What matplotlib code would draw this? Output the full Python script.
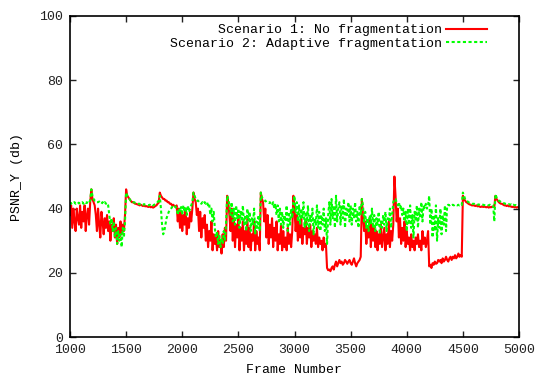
import numpy as np
import matplotlib
matplotlib.use("Agg")
import matplotlib.pyplot as plt

plt.rcParams['font.family'] = ['Liberation Mono', 'DejaVu Sans Mono']

frames = np.arange(1000, 5001, 10)

psnr_no_frag = [
    38, 41, 34, 40, 36, 33, 40, 37, 35, 41,            # 1000
    34, 39, 36, 41, 33, 38, 40, 35, 42, 46,            # 1100
    43, 42, 41, 38, 33, 40, 35, 31, 39, 36,            # 1200
    32, 37, 34, 38, 33, 36, 30, 35, 33, 37,            # 1300
    31, 35, 29, 34, 31, 36, 32, 35, 33, 38,            # 1400
    46, 44, 43.5, 43, 42.5, 42, 42, 41.8, 41.5, 41.5,  # 1500
    41.3, 41.2, 41, 41.2, 41, 40.8, 41, 40.7, 40.8, 40.6,  # 1600
    40.5, 40.7, 40.4, 40.6, 40.3, 40.5, 40.8, 41, 41.5, 41.8,  # 1700
    45, 44, 43.5, 43, 43, 42.5, 42.5, 42, 42, 41.5,    # 1800
    41.5, 41, 41.2, 40.8, 40.5, 41, 36, 40, 34, 39,    # 1900
    33, 38, 35, 40, 32, 37, 34, 39, 36, 40,            # 2000
    45, 43, 42, 38, 40, 33, 39, 31, 37, 34,            # 2100
    38, 30, 35, 28, 33, 30, 36, 27, 32, 29,            # 2200
    31, 27, 33, 28, 30, 26, 32, 28, 34, 30,            # 2300
    44, 42, 38, 33, 40, 30, 37, 28, 35, 31,            # 2400
    38, 27, 34, 30, 36, 27, 33, 29, 37, 28,            # 2500
    34, 27, 32, 30, 36, 27, 33, 29, 31, 27,            # 2600
    45, 43, 42, 36, 40, 31, 38, 29, 35, 31,            # 2700
    37, 28, 34, 30, 36, 27, 32, 29, 35, 27,            # 2800
    33, 28, 31, 27, 34, 29, 32, 28, 33, 44,            # 2900
    40, 33, 38, 30, 36, 31, 37, 29, 34, 32,            # 3000
    36, 29, 34, 31, 35, 28, 33, 30, 32, 29,            # 3100
    34, 28, 31, 29, 30, 27, 31, 28, 29, 21.5,          # 3200
    20.8, 21, 20.5, 21.5, 22, 21, 22.5, 23.5, 22, 23,  # 3300
    24, 23, 23.5, 22.5, 23, 24, 23.5, 22.8, 23.5, 24,  # 3400
    23, 22.5, 23.5, 24.5, 23, 22, 23, 23.5, 24, 25,    # 3500
    43, 38, 33, 36, 29, 34, 31, 37, 28, 35,            # 3600
    30, 34, 28, 33, 27, 32, 29, 35, 28, 31,            # 3700
    34, 27, 32, 29, 36, 28, 33, 30, 35, 50,            # 3800
    44, 36, 40, 31, 37, 29, 34, 30, 36, 28,            # 3900
    33, 29, 31, 27, 32, 28, 30, 27, 31, 29,            # 4000
    32, 28, 30, 27, 33, 29, 31, 28, 30, 33,            # 4100
    22, 22.5, 21.5, 23, 22.5, 23.5, 22.8, 23, 24, 23.5,  # 4200
    24, 23, 24.5, 23.5, 24, 25, 24, 23.5, 24.5, 25,    # 4300
    24, 25, 24.5, 25.5, 24.5, 25, 26, 25, 25.5, 25,    # 4400
    44, 43, 42.5, 42, 41.8, 41.5, 41.3, 41.2, 41, 41,  # 4500
    41, 40.8, 41, 40.7, 40.8, 40.6, 40.5, 40.7, 40.5, 40.6,  # 4600
    40.5, 40.4, 40.6, 40.3, 40.5, 40.4, 40.6, 40.5, 40.5, 44,  # 4700
    43, 42.5, 42, 41.7, 41.5, 41.5, 41.2, 41, 41, 40.8,  # 4800
    41, 40.7, 40.8, 40.6, 40.5, 40.6, 40.4, 40.5, 40.3, 40.5,  # 4900
    40.3,                                               # 5000
]

psnr_adaptive = [
    42, 41.5, 42, 41.8, 42, 41.5, 41.8, 42, 41.6, 42,  # 1000
    41.8, 42, 41.5, 42, 41.7, 42, 41.5, 42, 42.5, 46,  # 1100
    44, 43, 42.5, 42.5, 42, 42, 42.2, 41.8, 41.5, 42,  # 1200
    41.5, 42, 41.5, 41.8, 41, 38, 35, 37, 33, 36,      # 1300
    31, 34, 29, 33, 30, 32, 28, 34, 31, 36,            # 1400
    45, 44, 43.5, 43, 42.5, 42.5, 42, 42, 41.8, 41.8,  # 1500
    41.5, 41.5, 41.5, 41.3, 41.5, 41.2, 41.4, 41.2, 41.3, 41.2,  # 1600
    41, 41.2, 41, 41.3, 41, 41.2, 41.4, 41.6, 42, 42.5,  # 1700
    44, 40, 35, 32, 33, 35, 37, 38, 39, 39.5,          # 1800
    40, 40.5, 40.5, 41, 40.5, 40, 38, 40, 39, 40.5,    # 1900
    38, 41, 39, 40.5, 38, 41, 39, 40, 41, 42,          # 2000
    45, 44, 43, 42.5, 42.5, 42, 42, 41.5, 42, 41.5,    # 2100
    42, 41.5, 42, 41, 41.5, 38, 40, 36, 39, 34,        # 2200
    31, 33, 29, 32, 28, 31, 29, 33, 30, 35,            # 2300
    44, 43, 41, 38, 42, 36, 40, 35, 41, 37,            # 2400
    40, 34, 39, 36, 41, 35, 38, 33, 40, 36,            # 2500
    39, 33, 37, 35, 40, 32, 36, 34, 38, 33,            # 2600
    45, 43.5, 43, 42.5, 42.5, 42, 42, 41.8, 42, 41.5,  # 2700
    41, 42, 40, 41.5, 38, 41, 36, 40, 35, 39,          # 2800
    34, 38, 36, 41, 33, 39, 35, 40, 37, 42,            # 2900
    44, 39, 42, 36, 41, 35, 40, 37, 42, 34,            # 3000
    39, 35, 41, 33, 38, 36, 40, 32, 37, 35,            # 3100
    41, 34, 39, 33, 38, 35, 40, 33, 37, 29,            # 3200
    38, 42, 35, 43, 37, 41, 34, 44, 36, 40,            # 3300
    42, 35, 41, 37, 43, 34, 40, 38, 42, 36,            # 3400
    41, 35, 40, 37, 42, 36, 39, 34, 41, 38,            # 3500
    43, 41, 36, 39, 34, 37, 33, 38, 35, 40,            # 3600
    34, 38, 33, 37, 35, 39, 32, 36, 34, 38,            # 3700
    35, 39, 33, 37, 36, 40, 34, 38, 42, 43,            # 3800
    43, 42, 41, 42, 40, 41, 38, 40, 36, 39,            # 3900
    33, 40, 35, 41, 34, 38, 31, 39, 36, 41,            # 4000
    34, 40, 37, 42, 36, 41, 40, 41.5, 40, 41,          # 4100
    44, 35, 40, 31, 38, 33, 41, 30, 37, 34,            # 4200
    40, 32, 38, 35, 41, 33, 41, 41.2, 41, 41.3,        # 4300
    41, 41.2, 41, 41.3, 41.1, 41, 41.2, 41, 41.3, 41.1,  # 4400
    45, 44, 43, 42.5, 42.3, 42, 41.8, 41.8, 41.5, 41.5,  # 4500
    41.5, 41.3, 41.4, 41.2, 41.3, 41.2, 41.1, 41.3, 41.2, 41.1,  # 4600
    41, 41.2, 41.1, 41, 41.2, 41, 41.1, 41, 36, 44.5,  # 4700
    43.5, 43, 42.5, 42.3, 42, 42, 41.8, 41.6, 41.5, 41.5,  # 4800
    41.3, 41.4, 41.2, 41.3, 41, 41.2, 41, 41.1, 40.8, 40.9,  # 4900
    40.7,                                               # 5000
]

label_no_frag = "Scenario 1: No fragmentation"
label_adaptive = "Scenario 2: Adaptive fragmentation"
x_ticks = [1000, 1500, 2000, 2500, 3000, 3500, 4000, 4500, 5000]
y_ticks = [0, 20, 40, 60, 80, 100]

fig = plt.figure(figsize=(5.4, 3.74), dpi=100)
ax = fig.add_axes([70/540, 1-337/374, 449/540, 321/374])

ax.plot(frames, psnr_no_frag, color='#ff0000', lw=1.5,
        label=" " * (len(label_adaptive) - len(label_no_frag)) + label_no_frag)
ax.plot(frames, psnr_adaptive, color='#00ff00', lw=1.5, ls=(0, (1.5, 1.2)),
        label=label_adaptive)

ax.set_xlim(1000, 5000)
ax.set_ylim(0, 100)
ax.set_xticks(x_ticks)
ax.set_yticks(y_ticks)
ax.tick_params(direction='in', length=4, width=1, top=True, right=True,
               labelsize=9.5, pad=5, colors='#222222')
for s in ax.spines.values():
    s.set_linewidth(1.2)
    s.set_color('black')

ax.set_xlabel("Frame Number", fontsize=9.5)
ax.xaxis.set_label_coords(0.5, -0.085)
ax.set_ylabel("PSNR_Y (db)", fontsize=9.5)
ax.yaxis.set_label_coords(-0.105, 0.5)

leg = ax.legend(loc='upper right', bbox_to_anchor=(0.929, 0.975),
                frameon=False, fontsize=9.5, markerfirst=False,
                handlelength=3.1, handletextpad=0.35, labelspacing=0.1,
                borderpad=0, borderaxespad=0)

fig.savefig("out.png", dpi=100)
